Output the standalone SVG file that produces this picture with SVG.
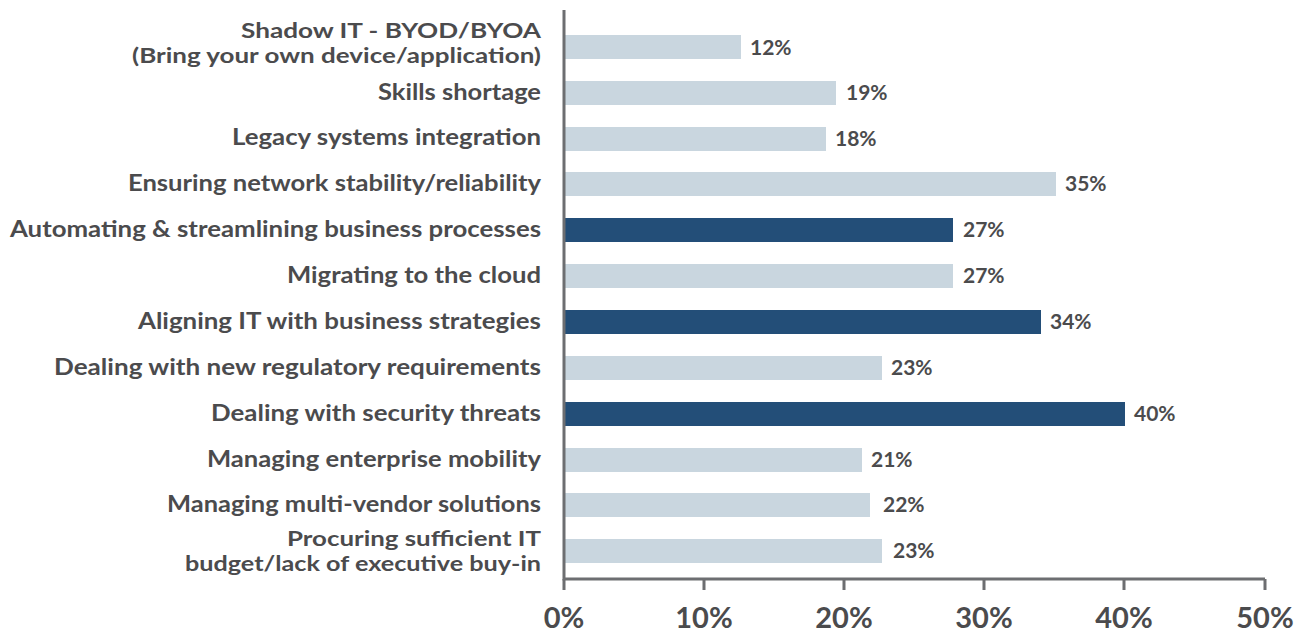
<svg xmlns="http://www.w3.org/2000/svg" width="1307" height="633" viewBox="0 0 1307 633">
<style>
.lbl{font-family:Lato,"Liberation Sans",sans-serif;font-weight:bold;font-size:22px;fill:#4b4b4d;text-anchor:end}
.two{font-size:20px}
.val{font-family:Lato,"Liberation Sans",sans-serif;font-weight:bold;font-size:21px;fill:#4b4b4d}
.tick{font-family:Lato,"Liberation Sans",sans-serif;font-weight:bold;font-size:29px;fill:#4b4b4d;text-anchor:middle}
.lt{fill:#c9d6df}
.dk{fill:#234e78}
.ax{stroke:#6d6e71;stroke-width:3;fill:none}
</style>
<rect width="1307" height="633" fill="#ffffff"/>
<g id="bars">
<rect class="lt" x="565" y="35" width="176" height="24"/>
<rect class="lt" x="565" y="81" width="271" height="24"/>
<rect class="lt" x="565" y="127" width="261" height="24"/>
<rect class="lt" x="565" y="172" width="491" height="24"/>
<rect class="dk" x="565" y="218" width="388" height="24"/>
<rect class="lt" x="565" y="264" width="388" height="24"/>
<rect class="dk" x="565" y="310" width="476" height="24"/>
<rect class="lt" x="565" y="356" width="317" height="24"/>
<rect class="dk" x="565" y="402" width="560" height="24"/>
<rect class="lt" x="565" y="448" width="297" height="24"/>
<rect class="lt" x="565" y="493" width="305" height="24"/>
<rect class="lt" x="565" y="539" width="317" height="24"/>
</g>
<g id="axes">
<path class="ax" d="M564 10 V579 H1265"/>
<path class="ax" d="M564 579 V590 M704 579 V590 M844 579 V590 M984 579 V590 M1124 579 V590 M1265 579 V590"/>
</g>
<g id="labels">
<text class="lbl two" x="541" y="38" textLength="300" lengthAdjust="spacingAndGlyphs">Shadow IT - BYOD/BYOA</text>
<text class="lbl two" x="541" y="63" textLength="409" lengthAdjust="spacingAndGlyphs">(Bring your own device/application)</text>
<text class="lbl" x="541" y="100" textLength="163" lengthAdjust="spacingAndGlyphs">Skills shortage</text>
<text class="lbl" x="541" y="145" textLength="309" lengthAdjust="spacingAndGlyphs">Legacy systems integration</text>
<text class="lbl" x="541" y="191" textLength="413" lengthAdjust="spacingAndGlyphs">Ensuring network stability/reliability</text>
<text class="lbl" x="541" y="237" textLength="531" lengthAdjust="spacingAndGlyphs">Automating &amp; streamlining business processes</text>
<text class="lbl" x="541" y="283" textLength="254" lengthAdjust="spacingAndGlyphs">Migrating to the cloud</text>
<text class="lbl" x="541" y="329" textLength="403" lengthAdjust="spacingAndGlyphs">Aligning IT with business strategies</text>
<text class="lbl" x="541" y="375" textLength="487" lengthAdjust="spacingAndGlyphs">Dealing with new regulatory requirements</text>
<text class="lbl" x="541" y="421" textLength="330" lengthAdjust="spacingAndGlyphs">Dealing with security threats</text>
<text class="lbl" x="541" y="467" textLength="334" lengthAdjust="spacingAndGlyphs">Managing enterprise mobility</text>
<text class="lbl" x="541" y="512" textLength="374" lengthAdjust="spacingAndGlyphs">Managing multi-vendor solutions</text>
<text class="lbl two" x="541" y="546" textLength="254" lengthAdjust="spacingAndGlyphs">Procuring sufficient IT</text>
<text class="lbl two" x="541" y="571" textLength="356" lengthAdjust="spacingAndGlyphs">budget/lack of executive buy-in</text>
</g>
<g id="values">
<text class="val" x="750" y="55">12%</text>
<text class="val" x="846" y="100">19%</text>
<text class="val" x="835" y="146">18%</text>
<text class="val" x="1065" y="191">35%</text>
<text class="val" x="963" y="237">27%</text>
<text class="val" x="963" y="283">27%</text>
<text class="val" x="1050" y="329">34%</text>
<text class="val" x="891" y="375">23%</text>
<text class="val" x="1134" y="421">40%</text>
<text class="val" x="871" y="467">21%</text>
<text class="val" x="883" y="512">22%</text>
<text class="val" x="893" y="558">23%</text>
</g>
<g id="ticks">
<text class="tick" x="564" y="628">0%</text>
<text class="tick" x="704" y="628">10%</text>
<text class="tick" x="844" y="628">20%</text>
<text class="tick" x="984" y="628">30%</text>
<text class="tick" x="1124" y="628">40%</text>
<text class="tick" x="1265" y="628">50%</text>
</g>
</svg>
